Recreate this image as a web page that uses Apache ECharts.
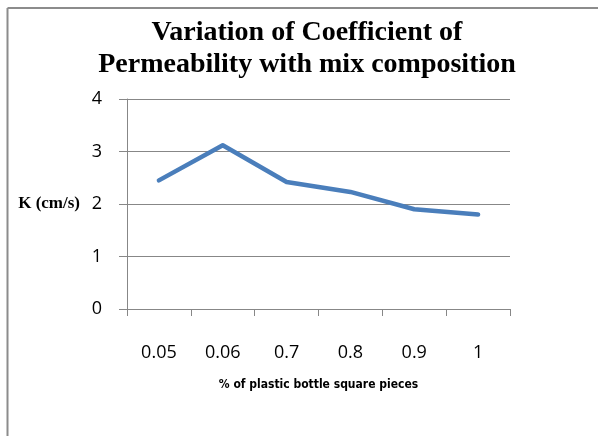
<!DOCTYPE html>
<html>
<head>
<meta charset="utf-8">
<script src="https://cdn.jsdelivr.net/npm/echarts@6/dist/echarts.min.js"></script>
<style>html,body{margin:0;padding:0;background:#fff;}#c{width:598px;height:436px;}</style>
</head>
<body>
<div id="c"></div>
<script>
const categories = ['0.05', '0.06', '0.7', '0.8', '0.9', '1'];
const kValues = [2.45, 3.12, 2.42, 2.23, 1.9, 1.8];
const yTicks = { min: 0, max: 4, interval: 1 };
const titleLines = ['Variation of Coefficient of', 'Permeability with mix composition'];
const xName = '% of plastic bottle square pieces';
const yName = 'K (cm/s)';

const gray = '#878787';
const chart = echarts.init(document.getElementById('c'));
chart.setOption({
  animation: false,
  backgroundColor: '#fff',
  title: {
    text: titleLines.join('\n'),
    left: 302,
    top: 12,
    textAlign: 'center',
    textStyle: { fontFamily: '"Liberation Serif", "Times New Roman", serif', fontWeight: 'bold', fontSize: 28, lineHeight: 32, color: '#000' }
  },
  graphic: [
    { type: 'line', shape: { x1: 7.5, y1: 8, x2: 598, y2: 8 }, style: { stroke: '#8c8c8c', lineWidth: 2 } },
    { type: 'line', shape: { x1: 7.5, y1: 8, x2: 7.5, y2: 436 }, style: { stroke: '#8c8c8c', lineWidth: 2 } }
  ],
  grid: { left: 127, right: 88, top: 99, bottom: 127, containLabel: false, outerBoundsMode: 'none' },
  xAxis: {
    type: 'category',
    data: categories,
    boundaryGap: true,
    name: xName,
    nameLocation: 'middle',
    nameGap: 70,
    nameTextStyle: { fontFamily: '"Liberation Sans Narrow", "DejaVu Sans Condensed", "Open Sans", sans-serif', fontWeight: 'bold', fontSize: 12, color: '#000' },
    axisLine: { lineStyle: { color: gray, width: 1 } },
    axisTick: { show: true, length: 7, alignWithLabel: false, lineStyle: { color: gray } },
    axisLabel: { margin: 35, fontFamily: '"Open Sans", sans-serif', fontSize: 18, color: '#000' }
  },
  yAxis: {
    type: 'value',
    min: yTicks.min, max: yTicks.max, interval: yTicks.interval,
    name: yName,
    nameLocation: 'middle',
    nameRotate: 0,
    nameGap: 47,
    nameTextStyle: { fontFamily: '"Liberation Serif", "Times New Roman", serif', fontWeight: 'bold', fontSize: 17, color: '#000' },
    axisLine: { show: true, lineStyle: { color: gray, width: 1 } },
    axisTick: { show: true, length: 8, lineStyle: { color: gray } },
    splitLine: { show: true, lineStyle: { color: gray, width: 1 } },
    axisLabel: { margin: 25, fontFamily: '"Open Sans", sans-serif', fontSize: 18, color: '#000' }
  },
  series: [{
    type: 'line',
    data: kValues,
    showSymbol: false,
    symbol: 'none',
    lineStyle: { color: '#4a7ebb', width: 4.5, join: 'round', cap: 'round' }
  }]
});
</script>
</body>
</html>
